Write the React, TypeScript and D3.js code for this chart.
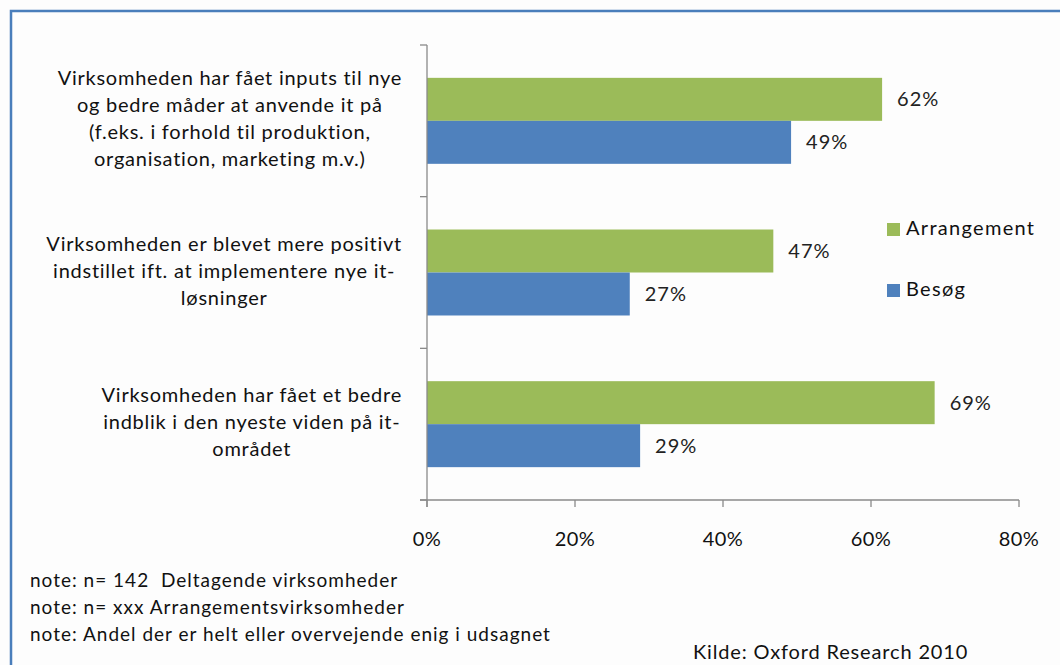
import React, { useEffect, useRef } from "react";
import * as d3 from "d3";

const categories: string[][] = [
  ["Virksomheden har fået inputs til nye", "og bedre måder at anvende it på", "(f.eks. i forhold til produktion,", "organisation, marketing m.v.)"],
  ["Virksomheden er blevet mere positivt", "indstillet ift. at implementere nye it-", "løsninger"],
  ["Virksomheden har fået et bedre", "indblik i den nyeste viden på it-", "området"],
];
const seriesNames = ["Arrangement", "Besøg"];
const arrangementValues = [0.615, 0.468, 0.686];
const besogValues = [0.492, 0.274, 0.288];
const xTicks = [0, 0.2, 0.4, 0.6, 0.8];
const notes = [
  "note: n= 142  Deltagende virksomheder",
  "note: n= xxx Arrangementsvirksomheder",
  "note: Andel der er helt eller overvejende enig i udsagnet",
];
const source = "Kilde: Oxford Research 2010";
const colors = ["#9BBB59", "#4F81BD"];

const FONT = "Lato, 'Open Sans', sans-serif";

export default function App() {
  const ref = useRef<SVGSVGElement | null>(null);

  useEffect(() => {
    document.body.style.margin = "0";
    const svg = d3.select(ref.current);
    svg.selectAll("*").remove();

    const W = 1060, H = 665;
    svg.append("rect").attr("width", W).attr("height", H).attr("fill", "#fdfdfd");
    svg.append("rect").attr("x", 11).attr("y", 11).attr("width", W + 20).attr("height", H + 20)
      .attr("fill", "none").attr("stroke", "#4A7EBB").attr("stroke-width", 2.5);

    const left = 427, right = 1019, top = 45, bottom = 500;
    const x = d3.scaleLinear().domain([0, 0.8]).range([left, right]);
    const idx = categories.map((_, i) => i);
    const y0 = d3.scaleBand<number>().domain(idx).range([top, bottom]).padding(0);
    const y1 = d3.scaleBand<number>().domain([0, 1]).range([0, y0.bandwidth()]).paddingInner(0).paddingOuter(0.764);

    const data = [arrangementValues, besogValues];

    const g = svg.append("g");
    data.forEach((vals, s) => {
      vals.forEach((v, i) => {
        const yy = (y0(i) as number) + (y1(s) as number);
        g.append("rect")
          .attr("x", x(0)).attr("y", yy)
          .attr("width", x(v) - x(0)).attr("height", y1.bandwidth())
          .attr("fill", colors[s]);
        g.append("text")
          .attr("x", x(v) + 15).attr("y", yy + y1.bandwidth() / 2 + 2)
          .attr("dominant-baseline", "middle")
          .attr("font-family", FONT).attr("font-size", 20).attr("letter-spacing", 1).attr("fill", "#222")
          .text(Math.round(v * 100) + "%");
      });
    });

    const axisColor = "#8a8a8a";
    svg.append("line").attr("x1", left).attr("x2", left).attr("y1", top).attr("y2", bottom + 7)
      .attr("stroke", axisColor).attr("stroke-width", 1.3);
    svg.append("line").attr("x1", left - 7).attr("x2", right).attr("y1", bottom).attr("y2", bottom)
      .attr("stroke", axisColor).attr("stroke-width", 1.3);
    [top, ...idx.map((i) => (y0(i) as number) + y0.bandwidth())].forEach((yy) => {
      svg.append("line").attr("x1", left - 7).attr("x2", left).attr("y1", yy).attr("y2", yy)
        .attr("stroke", axisColor).attr("stroke-width", 1.3);
    });
    xTicks.forEach((t) => {
      svg.append("line").attr("x1", x(t)).attr("x2", x(t)).attr("y1", bottom).attr("y2", bottom + 7)
        .attr("stroke", axisColor).attr("stroke-width", 1.3);
      svg.append("text").attr("x", x(t)).attr("y", 546).attr("text-anchor", "middle")
        .attr("font-family", FONT).attr("font-size", 20).attr("letter-spacing", 0.5).attr("fill", "#111")
        .text(d3.format(".0%")(t));
    });

    const lineH = 27;
    categories.forEach((lines, i) => {
      const cy = (y0(i) as number) + y0.bandwidth() / 2;
      const grp = svg.append("g");
      const startY = cy - ((lines.length - 1) * lineH) / 2;
      const texts = lines.map((ln, k) =>
        grp.append("text").attr("y", startY + k * lineH).attr("dominant-baseline", "middle")
          .attr("text-anchor", "middle")
          .attr("font-family", FONT).attr("font-size", 20).attr("letter-spacing", 0.75)
          .attr("fill", "#111").text(ln)
      );
      let maxW = 0;
      texts.forEach((t) => {
        const n = t.node() as SVGTextElement;
        maxW = Math.max(maxW, n.getComputedTextLength());
      });
      const cx = 402 - maxW / 2;
      texts.forEach((t) => t.attr("x", cx));
    });

    seriesNames.forEach((name, s) => {
      const ly = 230 + s * 61;
      svg.append("rect").attr("x", 887).attr("y", ly - 7).attr("width", 13).attr("height", 13).attr("fill", colors[s]);
      svg.append("text").attr("x", 906).attr("y", ly).attr("dominant-baseline", "middle")
        .attr("font-family", FONT).attr("font-size", 20).attr("letter-spacing", 1.3).attr("fill", "#111").text(name);
    });

    notes.forEach((n, k) => {
      svg.append("text").attr("x", 30).attr("y", 587 + k * 27)
        .style("white-space", "pre")
        .attr("font-family", FONT).attr("font-size", 19).attr("letter-spacing", 1).attr("fill", "#111").text(n);
    });
    svg.append("text").attr("x", 693).attr("y", 659)
      .attr("font-family", FONT).attr("font-size", 20).attr("letter-spacing", 0.85).attr("fill", "#111").text(source);
  }, []);

  return <svg ref={ref} width={1060} height={665} style={{ display: "block" }} />;
}
